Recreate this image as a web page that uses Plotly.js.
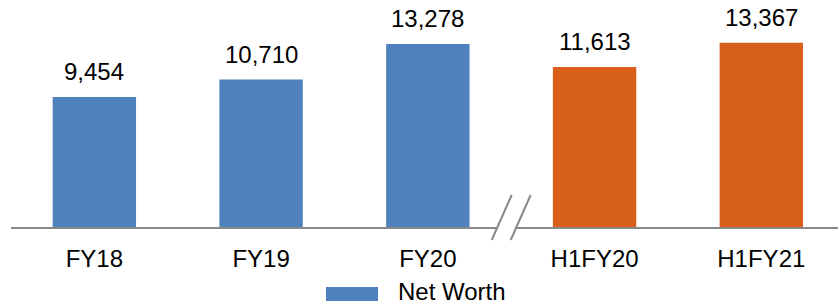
<!DOCTYPE html>
<html>
<head>
<meta charset="utf-8">
<script src="https://cdn.plot.ly/plotly-3.0.1.min.js"></script>
<style>html,body{margin:0;padding:0;background:#fff;}#chart{width:839px;height:307px;}</style>
</head>
<body>
<div id="chart"></div>
<script>
const categories = ["FY18", "FY19", "FY20", "H1FY20", "H1FY21"];
const netWorth = [9454, 10710, 13278, 11613, 13367];
const barColors = ["#4F81BD", "#4F81BD", "#4F81BD", "#D9601A", "#D9601A"];
const seriesName = "Net Worth";

const FONT = "Liberation Sans, Arial, sans-serif";
const idx = categories.map((c, i) => i);

const trace = {
  type: "bar",
  x: idx,
  y: netWorth,
  width: 0.5,
  marker: { color: barColors },
  name: seriesName,
  hoverinfo: "x+y",
  showlegend: false
};

const annotations = netWorth.map((v, i) => ({
  x: i, y: v, xref: "x", yref: "y",
  text: v.toLocaleString("en-US"),
  showarrow: false, yanchor: "bottom", yshift: 10,
  font: { family: FONT, size: 24, color: "#000" }
}));

const H = 228; // plot height in px
const py = px => (H - px) / H; // pixel y -> paper y
const breakX = 2.5, pxPerCat = 167;
const dx = p => breakX + p / pxPerCat;
const axisColor = "#898989";
const shapes = [
  { type: "line", xref: "x", yref: "paper", x0: -0.5, x1: dx(-14.5), y0: 0, y1: 0, line: { color: axisColor, width: 2 } },
  { type: "line", xref: "x", yref: "paper", x0: dx(4.5), x1: 4.46, y0: 0, y1: 0, line: { color: axisColor, width: 2 } },
  { type: "line", xref: "x", yref: "paper", x0: dx(-19.5), x1: dx(0.5), y0: py(240), y1: py(195), line: { color: axisColor, width: 2 } },
  { type: "line", xref: "x", yref: "paper", x0: dx(-0.5), x1: dx(19.5), y0: py(240), y1: py(195), line: { color: axisColor, width: 2 } }
];

const layout = {
  width: 839, height: 307,
  margin: { l: 11, r: 1, t: 0, b: 79 },
  paper_bgcolor: "#fff", plot_bgcolor: "#fff",
  showlegend: false,
  xaxis: {
    range: [-0.5, 4.46], tickmode: "array", tickvals: idx, ticktext: categories,
    showgrid: false, zeroline: false, showline: false, ticks: "",
    ticklabelstandoff: 14,
    tickfont: { family: FONT, size: 24, color: "#000" }, fixedrange: true
  },
  yaxis: {
    range: [0, 16453], visible: false, fixedrange: true
  },
  annotations: annotations,
  shapes: shapes
};

Plotly.newPlot("chart", [trace], layout, { displayModeBar: false, staticPlot: true }).then(gd => {
  // legend swatch and label placed in pixel terms relative to paper
  const fl = gd._fullLayout;
  const pw = fl._size.w, ph = fl._size.h, ml = fl._size.l, mt = fl._size.t;
  const pxX = x => (x - ml) / pw, pxY = y => (mt + ph - y) / ph;
  const legendShapes = shapes.concat([
    { type: "rect", xref: "paper", yref: "paper", x0: pxX(326), x1: pxX(378), y0: pxY(301), y1: pxY(287),
      fillcolor: barColors[0], line: { width: 0 } }
  ]);
  const legendAnn = annotations.concat([
    { x: pxX(396), y: pxY(307), xref: "paper", yref: "paper", xanchor: "left", yanchor: "bottom",
      text: seriesName, showarrow: false, font: { family: FONT, size: 24, color: "#000" } }
  ]);
  Plotly.relayout(gd, { shapes: legendShapes, annotations: legendAnn });
});
</script>
</body>
</html>
